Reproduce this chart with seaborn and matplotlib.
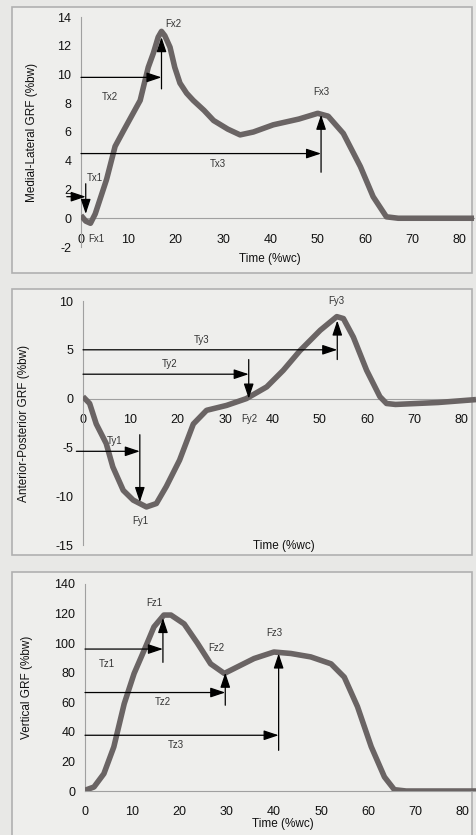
import numpy as np
import pandas as pd
import matplotlib
matplotlib.use('Agg')
import matplotlib.pyplot as plt
from matplotlib.patches import Rectangle
import seaborn as sns

sns.set_style('white')
plt.rcParams['font.family'] = ['Liberation Sans', 'DejaVu Sans']
plt.rcParams['axes.unicode_minus'] = False

# Medial-lateral GRF (%bw) over time (%wc)
ml_time = [0, 1, 2, 3, 4, 5.4, 7.2, 9, 11, 12.5, 14.2, 15.3, 16.3, 17, 17.7, 18.8, 19.8,
           20.9, 22.3, 23.7, 26, 28, 31, 33.6, 36.4, 40.6, 46, 50, 52.2, 55.4, 59, 61.7,
           64.5, 67, 83]
ml_force = [0.2, -0.2, -0.35, 0.3, 1.3, 2.7, 5.0, 6.1, 7.3, 8.2, 10.5, 11.5, 12.6, 13.0,
            12.7, 11.9, 10.5, 9.4, 8.7, 8.2, 7.5, 6.8, 6.2, 5.8, 6.0, 6.5, 6.9, 7.3, 7.1,
            5.9, 3.6, 1.5, 0.1, 0, 0]

# Anterior-posterior GRF (%bw)
ap_time = [0, 1.4, 2.8, 4.9, 6.3, 8.5, 10.6, 13.4, 15.5, 17.6, 20.4, 23.3, 26.1, 30.3,
           34.5, 38.8, 42.3, 45.8, 50.1, 53.6, 55, 57.1, 59.9, 62.7, 64.1, 66, 75, 83]
ap_force = [0.2, -0.5, -2.6, -4.6, -7.0, -9.4, -10.4, -11.1, -10.75, -9.0, -6.3, -2.6,
            -1.2, -0.7, 0, 1.2, 2.9, 4.9, 7.0, 8.4, 8.2, 6.3, 2.9, 0.2, -0.5, -0.6, -0.4, -0.1]

# Vertical GRF (%bw)
vt_time = [0, 1.9, 4, 6.1, 8.3, 10.4, 12.5, 14.6, 16.7, 18.2, 21, 23.8, 26.6, 29.5,
           32.3, 35.8, 40, 43.6, 47.8, 52.1, 54.9, 57.7, 60.6, 63.4, 65.5, 68, 83]
vt_force = [0.5, 2.7, 11.7, 29.8, 59, 79.5, 95, 111, 119, 119, 113, 100, 86, 79.5,
            84, 89.6, 94, 93, 90.7, 86, 77, 57, 30, 9.5, 0.9, 0, 0]

x_ticks = [0, 10, 20, 30, 40, 50, 60, 70, 80]
ml_ticks = [-2, 0, 2, 4, 6, 8, 10, 12, 14]
ap_ticks = [-15, -10, -5, 0, 5, 10]
vt_ticks = [0, 20, 40, 60, 80, 100, 120, 140]

# event markers: (time label, arrow level, event time, line start, line end, force label)
ml_events = [('Tx1', 1.5, 1.0, 2.4, 0.3, 'Fx1'),
             ('Tx2', 9.8, 17.0, 9.0, 12.6, 'Fx2'),
             ('Tx3', 4.5, 50.7, 3.2, 7.2, 'Fx3')]
ap_events = [('Ty1', -5.4, 12.0, -3.7, -10.6, 'Fy1'),
             ('Ty2', 2.5, 35.0, 4.0, 0.0, 'Fy2'),
             ('Ty3', 5.0, 53.7, 4.0, 8.0, 'Fy3')]
vt_events = [('Tz1', 96, 16.5, 87, 117, 'Fz1'),
             ('Tz2', 66.6, 29.7, 58, 80, 'Fz2'),
             ('Tz3', 37.7, 41.0, 27.5, 93, 'Fz3')]

W, H = 477, 835
fig = plt.figure(figsize=(W / 100, H / 100), dpi=100)
fig.patch.set_facecolor('#e8e8e6')

for y0, y1 in [(7, 273), (289, 555), (572, 845)]:
    fig.add_artist(Rectangle((12 / W, 1 - y1 / H), 460 / W, (y1 - y0) / H,
                             transform=fig.transFigure, fill=True,
                             facecolor='#eeeeec', edgecolor='#b0b0b0', lw=1.2, zorder=0))

ax1 = fig.add_axes([81 / W, 1 - 247 / H, 393 / W, 230 / H])
ax2 = fig.add_axes([83 / W, 1 - 545 / H, 393 / W, 244 / H])
ax3 = fig.add_axes([85 / W, 1 - 791 / H, 392 / W, 207 / H])

curve_col = '#6a6464'
arrow_kw = dict(arrowstyle='-|>,head_length=0.9,head_width=0.3', color='black',
                lw=0.9, shrinkA=0, shrinkB=0)


def style_axis(ax, ylim, yticks, ylabel, zero_axis, xlab_pos, ylab_x):
    ax.set_facecolor('none')
    ax.set_xlim(0, 83)
    ax.set_ylim(*ylim)
    ax.set_xticks(x_ticks)
    ax.set_yticks(yticks)
    for s in ['top', 'right']:
        ax.spines[s].set_visible(False)
    ax.spines['left'].set_color('#a0a0a0')
    ax.spines['bottom'].set_color('#a0a0a0')
    if zero_axis:
        ax.spines['bottom'].set_position(('data', 0))
    ax.tick_params(axis='x', direction='inout', length=4, color='#a0a0a0',
                   labelsize=9, pad=9, labelcolor='#111111')
    ax.tick_params(axis='y', direction='out', length=3, color='#a0a0a0',
                   labelsize=9, pad=4, labelcolor='#111111')
    ax.set_xlabel('Time (%wc)', fontsize=8.5, color='#111111')
    ax.xaxis.set_label_coords(*xlab_pos)
    ax.set_ylabel(ylabel, fontsize=8.5, color='#111111')
    ax.yaxis.set_label_coords(ylab_x, 0.5)


def draw_events(ax, events, tlabels, flabels):
    for (tl, lvl, tev, ys, ye, fl), tpos, fpos in zip(events, tlabels, flabels):
        x_start = -3 if tl == 'Tx1' else (-1.4 if tl == 'Ty1' else 0)
        ax.annotate('', xy=(tev, lvl), xytext=(x_start, lvl),
                    arrowprops=arrow_kw, annotation_clip=False, zorder=5)
        ax.annotate('', xy=(tev, ye), xytext=(tev, ys), arrowprops=arrow_kw,
                    annotation_clip=False, zorder=5)
        ax.text(tpos[0], tpos[1], tl, fontsize=7, color='#333333', ha='center', va='center')
        ax.text(fpos[0], fpos[1], fl, fontsize=7, color='#333333', ha='center', va='center')


for ax, t, f in [(ax1, ml_time, ml_force), (ax2, ap_time, ap_force), (ax3, vt_time, vt_force)]:
    df = pd.DataFrame({'time': t, 'force': f})
    sns.lineplot(data=df, x='time', y='force', ax=ax, color=curve_col, lw=4.0,
                 zorder=3, solid_joinstyle='round', solid_capstyle='butt')

style_axis(ax1, (-2, 14), ml_ticks, 'Medial-Lateral GRF (%bw)', True, (0.48, -0.026), -0.109)
style_axis(ax2, (-15, 10), ap_ticks, 'Anterior-Posterior GRF (%bw)', True, (0.51, 0.02), -0.135)
style_axis(ax3, (0, 140), vt_ticks, 'Vertical GRF (%bw)', False, (0.505, -0.13), -0.133)

draw_events(ax1, ml_events,
            [(3.0, 2.8), (6.1, 8.45), (29.0, 3.8)],
            [(3.2, -1.45), (19.5, 13.5), (50.8, 8.8)])
draw_events(ax2, ap_events,
            [(6.7, -4.3), (18.3, 3.5), (25.0, 6.0)],
            [(12.0, -12.5), (35.2, -2.1), (53.6, 10.0)])
draw_events(ax3, vt_events,
            [(4.7, 86), (16.4, 60), (19.2, 31)],
            [(14.6, 127), (27.7, 97), (40.0, 106.6)])

fig.savefig('out.png', dpi=100, facecolor=fig.get_facecolor())
